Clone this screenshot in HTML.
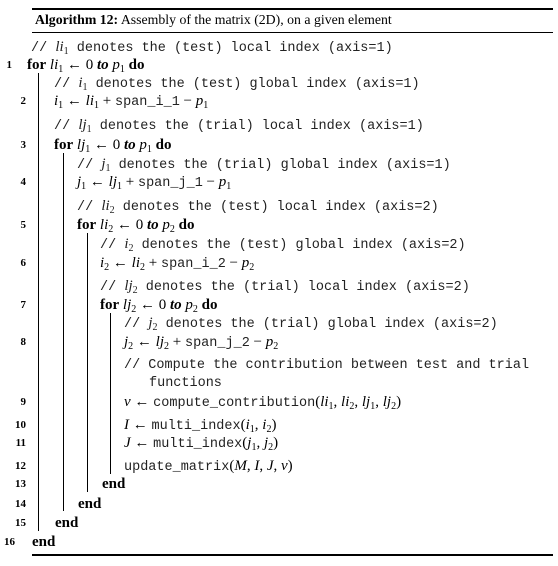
<!DOCTYPE html>
<html><head><meta charset="utf-8">
<style>
body{margin:0;background:#fff;}
#c{position:relative;width:558px;height:566px;overflow:hidden;font-family:"Liberation Serif",serif;font-size:15px;color:#000;}
.r{position:absolute;background:#000;}
.l{position:absolute;white-space:nowrap;line-height:16px;}
.n{position:absolute;font-weight:bold;font-size:11px;line-height:16px;text-align:right;width:20px;}
.m{font-family:"Liberation Mono",monospace;font-size:13.5px;color:#222;}
i{font-style:italic;font-family:"Liberation Serif",serif;font-size:15px;}
b{font-weight:bold;}
sub{font-size:10px;vertical-align:-3px;line-height:0;font-family:"Liberation Serif",serif;}
</style></head><body>
<div id="c">
<div class="r" style="left:32px;top:8px;width:521px;height:1.5px"></div>
<div class="l" style="left:35px;top:12px;font-size:13.8px"><b>Algorithm 12:</b> Assembly of the matrix (2D), on a given element</div>
<div class="r" style="left:32px;top:32px;width:521px;height:1px"></div>
<div class="r" style="left:32px;top:554px;width:521px;height:1.5px"></div>

<div class="r" style="left:38px;top:73px;width:1px;height:458px"></div>
<div class="r" style="left:63px;top:153px;width:1px;height:358px"></div>
<div class="r" style="left:87px;top:233px;width:1px;height:259px"></div>
<div class="r" style="left:110px;top:313px;width:1px;height:161px"></div>

<div class="l m" style="left:31px;top:39px">// <i>li</i><sub>1</sub> denotes the (test) local index (axis=1)</div>
<div class="n" style="left:-8px;top:57px">1</div>
<div class="l" style="left:27px;top:57px"><b>for</b> <i>li</i><sub>1</sub> ← 0 <b><i>to</i></b> <i>p</i><sub>1</sub> <b>do</b></div>
<div class="l m" style="left:54px;top:75px">// <i>i</i><sub>1</sub> denotes the (test) global index (axis=1)</div>
<div class="n" style="left:6px;top:93px">2</div>
<div class="l" style="left:54px;top:93px"><i>i</i><sub>1</sub> ← <i>li</i><sub>1</sub> + <span class="m">span_i_1</span> − <i>p</i><sub>1</sub></div>
<div class="l m" style="left:54px;top:117px">// <i>lj</i><sub>1</sub> denotes the (trial) local index (axis=1)</div>
<div class="n" style="left:6px;top:137px">3</div>
<div class="l" style="left:54px;top:137px"><b>for</b> <i>lj</i><sub>1</sub> ← 0 <b><i>to</i></b> <i>p</i><sub>1</sub> <b>do</b></div>
<div class="l m" style="left:77px;top:156px">// <i>j</i><sub>1</sub> denotes the (trial) global index (axis=1)</div>
<div class="n" style="left:6px;top:174px">4</div>
<div class="l" style="left:77px;top:174px"><i>j</i><sub>1</sub> ← <i>lj</i><sub>1</sub> + <span class="m">span_j_1</span> − <i>p</i><sub>1</sub></div>
<div class="l m" style="left:77px;top:198px">// <i>li</i><sub>2</sub> denotes the (test) local index (axis=2)</div>
<div class="n" style="left:6px;top:217px">5</div>
<div class="l" style="left:77px;top:217px"><b>for</b> <i>li</i><sub>2</sub> ← 0 <b><i>to</i></b> <i>p</i><sub>2</sub> <b>do</b></div>
<div class="l m" style="left:100px;top:236px">// <i>i</i><sub>2</sub> denotes the (test) global index (axis=2)</div>
<div class="n" style="left:6px;top:255px">6</div>
<div class="l" style="left:100px;top:255px"><i>i</i><sub>2</sub> ← <i>li</i><sub>2</sub> + <span class="m">span_i_2</span> − <i>p</i><sub>2</sub></div>
<div class="l m" style="left:100px;top:278px">// <i>lj</i><sub>2</sub> denotes the (trial) local index (axis=2)</div>
<div class="n" style="left:6px;top:297px">7</div>
<div class="l" style="left:100px;top:297px"><b>for</b> <i>lj</i><sub>2</sub> ← 0 <b><i>to</i></b> <i>p</i><sub>2</sub> <b>do</b></div>
<div class="l m" style="left:124px;top:315px">// <i>j</i><sub>2</sub> denotes the (trial) global index (axis=2)</div>
<div class="n" style="left:6px;top:334px">8</div>
<div class="l" style="left:124px;top:334px"><i>j</i><sub>2</sub> ← <i>lj</i><sub>2</sub> + <span class="m">span_j_2</span> − <i>p</i><sub>2</sub></div>
<div class="l m" style="left:124px;top:358px">// Compute the contribution between test and trial</div>
<div class="l m" style="left:149px;top:376px">functions</div>
<div class="n" style="left:6px;top:394px">9</div>
<div class="l" style="left:124px;top:394px"><i>v</i> ← <span class="m">compute_contribution</span>(<i>li</i><sub>1</sub>, <i>li</i><sub>2</sub>, <i>lj</i><sub>1</sub>, <i>lj</i><sub>2</sub>)</div>
<div class="n" style="left:6px;top:417px">10</div>
<div class="l" style="left:124px;top:417px"><i>I</i> ← <span class="m">multi_index</span>(<i>i</i><sub>1</sub>, <i>i</i><sub>2</sub>)</div>
<div class="n" style="left:6px;top:435px">11</div>
<div class="l" style="left:124px;top:435px"><i>J</i> ← <span class="m">multi_index</span>(<i>j</i><sub>1</sub>, <i>j</i><sub>2</sub>)</div>
<div class="n" style="left:6px;top:458px">12</div>
<div class="l" style="left:124px;top:458px"><span class="m">update_matrix</span>(<i>M</i>, <i>I</i>, <i>J</i>, <i>v</i>)</div>
<div class="n" style="left:6px;top:476px">13</div>
<div class="l" style="left:102px;top:476px"><b>end</b></div>
<div class="n" style="left:6px;top:496px">14</div>
<div class="l" style="left:78px;top:496px"><b>end</b></div>
<div class="n" style="left:6px;top:515px">15</div>
<div class="l" style="left:55px;top:515px"><b>end</b></div>
<div class="n" style="left:-5px;top:534px">16</div>
<div class="l" style="left:32px;top:534px"><b>end</b></div>
</div>
</body></html>
